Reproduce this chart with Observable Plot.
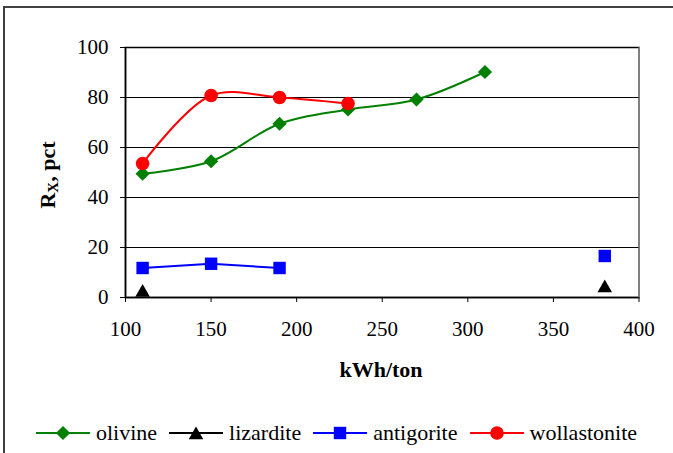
<!DOCTYPE html>
<html>
<head>
<meta charset="utf-8">
<style>
  html, body { margin: 0; padding: 0; background: #fff; width: 673px; height: 453px; overflow: hidden; }
  #frame { position: absolute; left: 3px; top: 6px; width: 800px; height: 600px; border: 2px solid #404040; box-sizing: border-box; }
  #chart { position: absolute; left: 0; top: 0; }
  #legend { position: absolute; left: 36px; top: 420px; display: flex; align-items: center; gap: 12px;
            font-family: 'Liberation Serif'; font-size: 22px; color: #000; white-space: nowrap; }
  .item { display: flex; align-items: center; }
  .item svg { margin-right: 6px; }
</style>
<script src="https://cdn.jsdelivr.net/npm/d3@7"></script>
<script src="https://cdn.jsdelivr.net/npm/@observablehq/plot@0.6"></script>
</head>
<body>
<div id="frame"></div>
<div id="chart"></div>
<div id="legend"></div>
<script>
// ---- data ----
const xTicks = [100, 150, 200, 250, 300, 350, 400];
const yTicks = [0, 20, 40, 60, 80, 100];

const seriesNames = ["olivine", "lizardite", "antigorite", "wollastonite"];

const olivineX = [110, 150, 190, 230, 270, 310];
const olivineY = [49.5, 54.5, 69.5, 75.2, 79.2, 90.2];

const lizarditeX = [110, null, 380];
const lizarditeY = [2.8, null, 4.6];

const antigoriteX = [110, 150, 190, null, 380];
const antigoriteY = [11.8, 13.5, 11.8, null, 16.6];

const wollastoniteX = [110, 150, 190, 230];
const wollastoniteY = [53.6, 80.8, 80.0, 77.6];

const xLabel = "kWh/ton";
const yLabelMain = "R";
const yLabelSub = "X";
const yLabelRest = ", pct";

const FONT = "Liberation Serif";

// ---- build tables ----
const toRows = (xs, ys) => xs.map((x, i) => ({x, y: ys[i]}));
const tables = {
  olivine: toRows(olivineX, olivineY),
  lizardite: toRows(lizarditeX, lizarditeY),
  antigorite: toRows(antigoriteX, antigoriteY),
  wollastonite: toRows(wollastoniteX, wollastoniteY)
};

const styles = {
  olivine:      {color: "#008000", symbol: "diamond2", r: 6.4, curve: "catmull-rom", dy: 0},
  lizardite:    {color: "#000000", symbol: "triangle", r: 5.4, curve: "linear", dy: 2},
  antigorite:   {color: "#0000FF", symbol: "square",   r: 7.0, curve: "linear", dy: 0},
  wollastonite: {color: "#FF0000", symbol: "circle",   r: 6.8, curve: "catmull-rom", dy: 0}
};

const seriesMarks = seriesNames.flatMap(name => {
  const s = styles[name], data = tables[name];
  return [
    Plot.line(data, {x: "x", y: "y", stroke: s.color, strokeWidth: 2, curve: s.curve}),
    Plot.dot(data.filter(d => d.x != null), {x: "x", y: "y", symbol: s.symbol, r: s.r, fill: s.color, stroke: "none", dy: s.dy})
  ];
});

const chart = Plot.plot({
  width: 673,
  height: 453,
  marginLeft: 125,
  marginRight: 34.5,
  marginTop: 47,
  marginBottom: 156,
  x: {domain: [100, 400]},
  y: {domain: [0, 100]},
  style: {fontFamily: FONT, fontSize: "21px", color: "#000", background: "transparent", overflow: "visible"},
  marks: [
    Plot.frame({stroke: "#808080", strokeWidth: 2}),
    Plot.gridY(yTicks.filter(d => d > 0), {stroke: "#000", strokeOpacity: 1, strokeWidth: 1}),
    Plot.ruleX([100], {stroke: "#000", strokeWidth: 1.5}),
    Plot.ruleY([0], {stroke: "#000", strokeWidth: 1.5}),
    Plot.axisX(xTicks, {tickSize: 5, tickPadding: 19, label: null, tickFormat: d => String(d), fontFamily: FONT}),
    Plot.axisY(yTicks, {tickSize: 5, tickPadding: 12, label: null, tickFormat: d => String(d), fontFamily: FONT}),
    ...seriesMarks
  ]
});
document.getElementById("chart").appendChild(chart);

// axis titles
const svg = d3.select(chart);
svg.append("text")
  .attr("x", 381).attr("y", 377)
  .attr("text-anchor", "middle")
  .style("font-family", FONT)
  .attr("font-size", 22).attr("font-weight", "bold")
  .text(xLabel);

const yl = svg.append("text")
  .attr("transform", "translate(55,175) rotate(-90)")
  .attr("text-anchor", "middle")
  .style("font-family", FONT)
  .attr("font-size", 22).attr("font-weight", "bold");
yl.append("tspan").text(yLabelMain);
yl.append("tspan").attr("font-size", 15).attr("dy", 3).text(yLabelSub);
yl.append("tspan").attr("dy", -3).text(yLabelRest);

// legend
const legend = d3.select("#legend");
seriesNames.forEach(name => {
  const s = styles[name];
  const item = legend.append("div").attr("class", "item");
  const sw = item.append("svg").attr("width", 54).attr("height", 20);
  sw.append("line").attr("x1", 0).attr("x2", 54).attr("y1", 10).attr("y2", 10)
    .attr("stroke", s.color).attr("stroke-width", 2);
  const symType = {diamond2: d3.symbolDiamond2, triangle: d3.symbolTriangle, square: d3.symbolSquare, circle: d3.symbolCircle}[s.symbol];
  sw.append("path").attr("d", d3.symbol(symType, Math.PI * s.r * s.r)())
    .attr("transform", `translate(27,${10 + s.dy})`).attr("fill", s.color);
  item.append("span").text(name);
});
</script>
</body>
</html>
